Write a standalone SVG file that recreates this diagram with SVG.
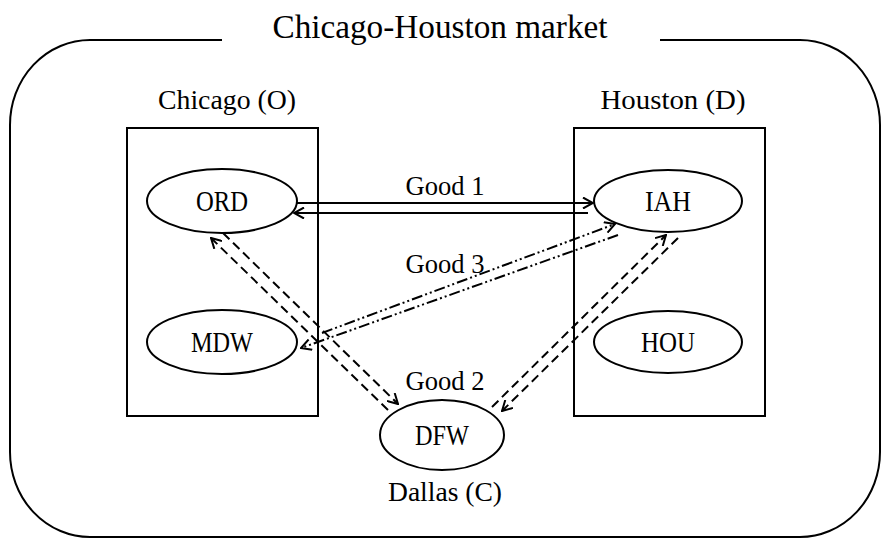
<svg xmlns="http://www.w3.org/2000/svg" width="883" height="540" viewBox="0 0 883 540">
  <style>
    .frame { fill: none; stroke: #000; stroke-width: 2; }
    .node ellipse { fill: #fff; stroke: #000; stroke-width: 2; }
    .lbl { font-family: "Liberation Serif", "Times New Roman", serif; fill: #000; text-anchor: middle; }
    .big { font-size: 34px; }
    .mid { font-size: 28px; }
    .code { font-size: 29px; }
    .conn line { stroke: #000; stroke-width: 2; fill: none; }
    .solid { marker-end: url(#arr); }
    .dash { stroke-dasharray: 9 5; marker-end: url(#arr); }
    .dashdot { stroke-dasharray: 11 3 2 3 2 3; marker-end: url(#arr); }
  </style>
  <defs>
    <marker id="arr" viewBox="0 0 12 12" refX="11" refY="6" markerWidth="12" markerHeight="12" markerUnits="userSpaceOnUse" orient="auto">
      <path d="M1,0.5 L11,6 L1,11.5" fill="none" stroke="#000" stroke-width="2"/>
    </marker>
  </defs>

  <rect width="883" height="540" fill="#fff"/>

  <!-- market boundary with opening for the title -->
  <path class="frame" d="M222 40 H90 A80 85 0 0 0 10 125 V452 A80 85 0 0 0 90 537 H800 A80 85 0 0 0 880 452 V125 A80 85 0 0 0 800 40 H660"/>
  <text class="lbl big" x="440" y="38" textLength="335" lengthAdjust="spacingAndGlyphs">Chicago-Houston market</text>

  <!-- city regions -->
  <g id="chicago">
    <rect class="frame" x="127" y="128" width="191" height="288"/>
    <text class="lbl mid" x="227" y="109" textLength="138" lengthAdjust="spacingAndGlyphs">Chicago (O)</text>
  </g>
  <g id="houston">
    <rect class="frame" x="574" y="128" width="191" height="288"/>
    <text class="lbl mid" x="673" y="109" textLength="145" lengthAdjust="spacingAndGlyphs">Houston (D)</text>
  </g>

  <!-- airports -->
  <g id="ORD" class="node">
    <ellipse cx="222" cy="201" rx="75" ry="32"/>
    <text class="lbl code" x="222" y="211" textLength="52" lengthAdjust="spacingAndGlyphs">ORD</text>
  </g>
  <g id="MDW" class="node">
    <ellipse cx="222" cy="342" rx="75" ry="32"/>
    <text class="lbl code" x="222" y="352" textLength="62" lengthAdjust="spacingAndGlyphs">MDW</text>
  </g>
  <g id="IAH" class="node">
    <ellipse cx="668" cy="201" rx="74" ry="31"/>
    <text class="lbl code" x="668" y="211" textLength="46" lengthAdjust="spacingAndGlyphs">IAH</text>
  </g>
  <g id="HOU" class="node">
    <ellipse cx="668" cy="342" rx="74" ry="31"/>
    <text class="lbl code" x="668" y="352" textLength="54" lengthAdjust="spacingAndGlyphs">HOU</text>
  </g>
  <g id="DFW" class="node">
    <ellipse cx="442" cy="435" rx="62" ry="35"/>
    <text class="lbl code" x="442" y="445" textLength="54" lengthAdjust="spacingAndGlyphs">DFW</text>
    <text class="lbl mid" x="445" y="501" textLength="114" lengthAdjust="spacingAndGlyphs">Dallas (C)</text>
  </g>

  <!-- flows between airports -->
  <g id="connectors" class="conn">
    <line class="solid" x1="297" y1="203" x2="593" y2="203"/>
    <line class="solid" x1="588" y1="213" x2="294" y2="213"/>

    <line class="dash" x1="388" y1="410" x2="211" y2="238"/>
    <line class="dash" x1="223" y1="233" x2="398" y2="404"/>
    <line class="dash" x1="492" y1="407" x2="666" y2="235"/>
    <line class="dash" x1="678" y1="238" x2="502" y2="411"/>

    <line class="dashdot" x1="322" y1="333" x2="615" y2="224"/>
    <line class="dashdot" x1="618" y1="235" x2="301" y2="348"/>
  </g>

  <g id="goods">
    <text class="lbl mid" x="445" y="195" textLength="79" lengthAdjust="spacingAndGlyphs">Good 1</text>
    <text class="lbl mid" x="445" y="273" textLength="79" lengthAdjust="spacingAndGlyphs">Good 3</text>
    <text class="lbl mid" x="445" y="390" textLength="79" lengthAdjust="spacingAndGlyphs">Good 2</text>
  </g>
</svg>
